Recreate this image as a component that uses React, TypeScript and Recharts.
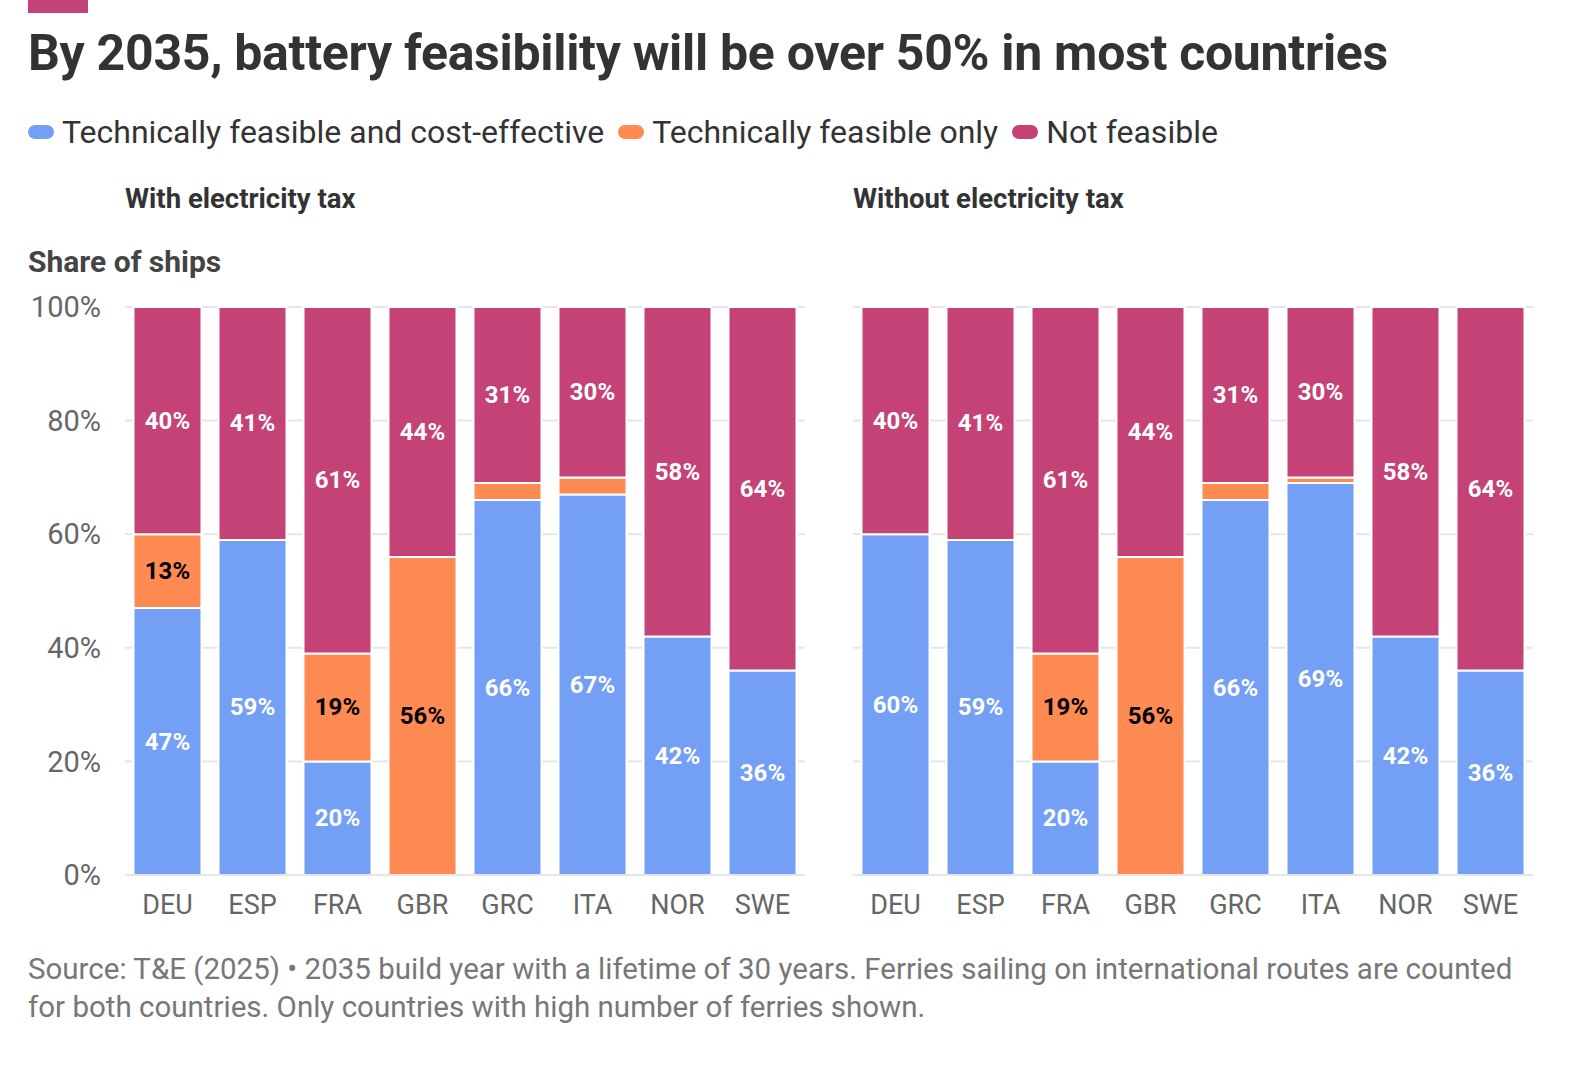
import { BarChart, Bar, XAxis, YAxis, CartesianGrid, LabelList } from "recharts";

const countries = ["DEU", "ESP", "FRA", "GBR", "GRC", "ITA", "NOR", "SWE"];
const taxCost = [47, 59, 20, 0, 66, 67, 42, 36];
const taxOnly = [13, 0, 19, 56, 3, 3, 0, 0];
const taxNot = [40, 41, 61, 44, 31, 30, 58, 64];
const noTaxCost = [60, 59, 20, 0, 66, 69, 42, 36];
const noTaxOnly = [0, 0, 19, 56, 3, 1, 0, 0];
const noTaxNot = [40, 41, 61, 44, 31, 30, 58, 64];
const yTicks = [0, 20, 40, 60, 80, 100];

const BLUE = "#739ff4";
const ORANGE = "#ff8a52";
const PINK = "#c44275";
const FONT = "Roboto, sans-serif";

const build = (a: number[], b: number[], c: number[]) =>
  countries.map((name, i) => ({ name, cost: a[i], only: b[i], not: c[i] }));

const makeLabel = (color: string) => (props: any) => {
  const { x, y, width, height, value } = props;
  if (!value || value < 10) return null;
  return (
    <text
      x={x + width / 2}
      y={y + height / 2}
      textAnchor="middle"
      dominantBaseline="central"
      fill={color}
      fontSize={24}
      fontWeight={700}
      fontFamily={FONT}
    >
      {value}%
    </text>
  );
};

const Panel = ({ data, left, width, showY }: any) => (
  <div style={{ position: "absolute", left, top: 290 }}>
    <BarChart
      width={width}
      height={630}
      data={data}
      margin={{ top: 17, right: 13, left: 0, bottom: 0 }}
      barCategoryGap="10%"
    >
      <CartesianGrid vertical={false} stroke="#e6e6e6" strokeWidth={2} />
      <XAxis
        dataKey="name"
        height={45}
        tick={{ fill: "#666", fontSize: 27, fontFamily: FONT }}
        tickLine={false}
        axisLine={{ stroke: "#e6e6e6", strokeWidth: 2 }}
        tickMargin={14}
      />
      <YAxis
        hide={!showY}
        width={showY ? 97 : 0}
        domain={[0, 100]}
        ticks={yTicks}
        tickFormatter={(v) => `${v}%`}
        tick={{ fill: "#666", fontSize: 29, fontFamily: FONT }}
        axisLine={false}
        tickLine={false}
        tickMargin={18}
      />
      <Bar dataKey="cost" stackId="s" fill={BLUE} stroke="#fff" strokeWidth={2} isAnimationActive={false}>
        <LabelList dataKey="cost" content={makeLabel("#fff")} />
      </Bar>
      <Bar dataKey="only" stackId="s" fill={ORANGE} stroke="#fff" strokeWidth={2} isAnimationActive={false}>
        <LabelList dataKey="only" content={makeLabel("#000")} />
      </Bar>
      <Bar dataKey="not" stackId="s" fill={PINK} stroke="#fff" strokeWidth={2} isAnimationActive={false}>
        <LabelList dataKey="not" content={makeLabel("#fff")} />
      </Bar>
    </BarChart>
  </div>
);

const Legend = ({ color, label }: any) => (
  <span style={{ display: "inline-flex", alignItems: "center", marginRight: 14 }}>
    <span style={{ width: 26, height: 14, borderRadius: 7, background: color, marginRight: 8 }} />
    {label}
  </span>
);

export default function App() {
  return (
    <div style={{ position: "absolute", left: 0, top: 0, width: 1588, height: 1068, background: "#fff", fontFamily: FONT, color: "#333" }}>
      <div style={{ position: "absolute", left: 28, top: 0, width: 60, height: 13, background: PINK }} />
      <div style={{ position: "absolute", left: 28, top: 24, fontSize: 50, fontWeight: 700, color: "#333", letterSpacing: -0.3 }}>
        By 2035, battery feasibility will be over 50% in most countries
      </div>
      <div style={{ position: "absolute", left: 28, top: 113, fontSize: 32, color: "#333", display: "flex" }}>
        <Legend color={BLUE} label="Technically feasible and cost-effective" />
        <Legend color={ORANGE} label="Technically feasible only" />
        <Legend color={PINK} label="Not feasible" />
      </div>
      <div style={{ position: "absolute", left: 125, top: 182, fontSize: 27.5, fontWeight: 700 }}>With electricity tax</div>
      <div style={{ position: "absolute", left: 853, top: 182, fontSize: 27.5, fontWeight: 700 }}>Without electricity tax</div>
      <div style={{ position: "absolute", left: 28, top: 244, fontSize: 30, fontWeight: 700, color: "#444" }}>Share of ships</div>
      <Panel data={build(taxCost, taxOnly, taxNot)} left={28} width={790} showY />
      <Panel data={build(noTaxCost, noTaxOnly, noTaxNot)} left={853} width={693} showY={false} />
      <div style={{ position: "absolute", left: 28, top: 950, width: 1500, fontSize: 29.5, color: "#777", lineHeight: "38px" }}>
        Source: T&amp;E (2025) • 2035 build year with a lifetime of 30 years. Ferries sailing on international routes are counted for both countries. Only countries with high number of ferries shown.
      </div>
    </div>
  );
}
